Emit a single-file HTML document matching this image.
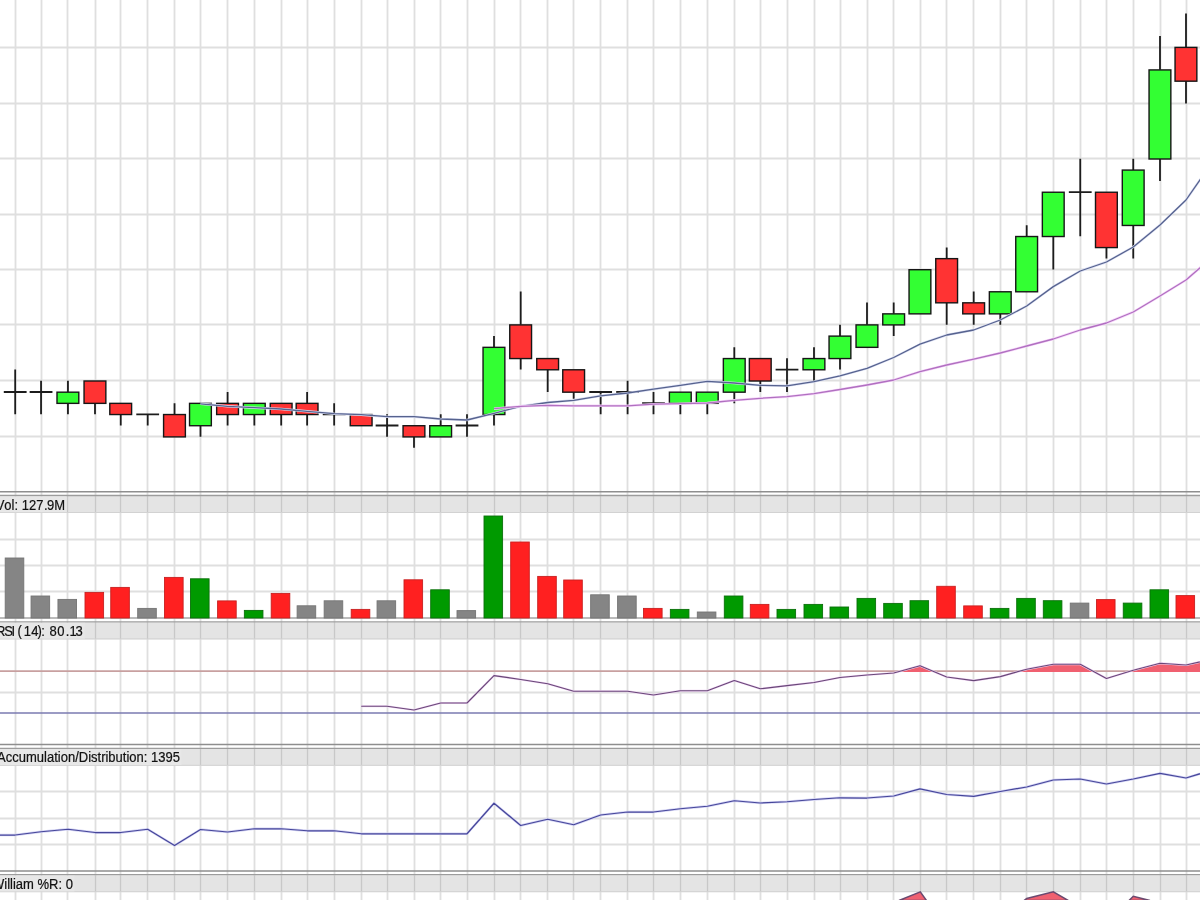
<!DOCTYPE html><html><head><meta charset="utf-8"><style>html,body{margin:0;padding:0;background:#fff;overflow:hidden}svg{display:block}text{font-family:"Liberation Sans",sans-serif;font-size:13px;fill:#111;stroke:#111;stroke-width:0.2px}</style></head><body>
<div id="wrap"><svg width="1200" height="900" viewBox="0 0 1200 900">
<rect width="1200" height="900" fill="#fff"/>
<rect x="0" y="496.1" width="1200" height="16.9" fill="#e4e4e4"/>
<rect x="0" y="622.5" width="1200" height="16.9" fill="#e4e4e4"/>
<rect x="0" y="748.9" width="1200" height="16.9" fill="#e4e4e4"/>
<rect x="0" y="875.3" width="1200" height="16.9" fill="#e4e4e4"/>
<path d="M-11.5 0V900M15.5 0V900M41.5 0V900M67.5 0V900M95.5 0V900M120.5 0V900M147.5 0V900M174.5 0V900M200.5 0V900M227.5 0V900M254.5 0V900M281.5 0V900M307.5 0V900M334.5 0V900M361.5 0V900M387.5 0V900M414.5 0V900M440.5 0V900M467.5 0V900M494.5 0V900M520.5 0V900M547.5 0V900M573.5 0V900M600.5 0V900M627.5 0V900M653.5 0V900M680.5 0V900M707.5 0V900M734.5 0V900M760.5 0V900M787.5 0V900M814.5 0V900M840.5 0V900M867.5 0V900M893.5 0V900M920.5 0V900M946.5 0V900M973.5 0V900M1000.5 0V900M1026.5 0V900M1053.5 0V900M1080.5 0V900M1106.5 0V900M1133.5 0V900M1160.5 0V900M1186.5 0V900M1212.5 0V900M0 47.5H1200M0 103.5H1200M0 158.5H1200M0 214.5H1200M0 269.5H1200M0 324.5H1200M0 380.5H1200M0 436.5H1200M0 539.5H1200M0 565.5H1200M0 591.5H1200M0 791.5H1200M0 818.5H1200M0 844.5H1200M0 692.5H1200" stroke="#dfdfdf" stroke-width="1.8" fill="none"/>
<path d="M-11.5 496.2V512.5M15.5 496.2V512.5M41.5 496.2V512.5M67.5 496.2V512.5M95.5 496.2V512.5M120.5 496.2V512.5M147.5 496.2V512.5M174.5 496.2V512.5M200.5 496.2V512.5M227.5 496.2V512.5M254.5 496.2V512.5M281.5 496.2V512.5M307.5 496.2V512.5M334.5 496.2V512.5M361.5 496.2V512.5M387.5 496.2V512.5M414.5 496.2V512.5M440.5 496.2V512.5M467.5 496.2V512.5M494.5 496.2V512.5M520.5 496.2V512.5M547.5 496.2V512.5M573.5 496.2V512.5M600.5 496.2V512.5M627.5 496.2V512.5M653.5 496.2V512.5M680.5 496.2V512.5M707.5 496.2V512.5M734.5 496.2V512.5M760.5 496.2V512.5M787.5 496.2V512.5M814.5 496.2V512.5M840.5 496.2V512.5M867.5 496.2V512.5M893.5 496.2V512.5M920.5 496.2V512.5M946.5 496.2V512.5M973.5 496.2V512.5M1000.5 496.2V512.5M1026.5 496.2V512.5M1053.5 496.2V512.5M1080.5 496.2V512.5M1106.5 496.2V512.5M1133.5 496.2V512.5M1160.5 496.2V512.5M1186.5 496.2V512.5M1212.5 496.2V512.5M-11.5 622.6V638.9M15.5 622.6V638.9M41.5 622.6V638.9M67.5 622.6V638.9M95.5 622.6V638.9M120.5 622.6V638.9M147.5 622.6V638.9M174.5 622.6V638.9M200.5 622.6V638.9M227.5 622.6V638.9M254.5 622.6V638.9M281.5 622.6V638.9M307.5 622.6V638.9M334.5 622.6V638.9M361.5 622.6V638.9M387.5 622.6V638.9M414.5 622.6V638.9M440.5 622.6V638.9M467.5 622.6V638.9M494.5 622.6V638.9M520.5 622.6V638.9M547.5 622.6V638.9M573.5 622.6V638.9M600.5 622.6V638.9M627.5 622.6V638.9M653.5 622.6V638.9M680.5 622.6V638.9M707.5 622.6V638.9M734.5 622.6V638.9M760.5 622.6V638.9M787.5 622.6V638.9M814.5 622.6V638.9M840.5 622.6V638.9M867.5 622.6V638.9M893.5 622.6V638.9M920.5 622.6V638.9M946.5 622.6V638.9M973.5 622.6V638.9M1000.5 622.6V638.9M1026.5 622.6V638.9M1053.5 622.6V638.9M1080.5 622.6V638.9M1106.5 622.6V638.9M1133.5 622.6V638.9M1160.5 622.6V638.9M1186.5 622.6V638.9M1212.5 622.6V638.9M-11.5 749V765.3M15.5 749V765.3M41.5 749V765.3M67.5 749V765.3M95.5 749V765.3M120.5 749V765.3M147.5 749V765.3M174.5 749V765.3M200.5 749V765.3M227.5 749V765.3M254.5 749V765.3M281.5 749V765.3M307.5 749V765.3M334.5 749V765.3M361.5 749V765.3M387.5 749V765.3M414.5 749V765.3M440.5 749V765.3M467.5 749V765.3M494.5 749V765.3M520.5 749V765.3M547.5 749V765.3M573.5 749V765.3M600.5 749V765.3M627.5 749V765.3M653.5 749V765.3M680.5 749V765.3M707.5 749V765.3M734.5 749V765.3M760.5 749V765.3M787.5 749V765.3M814.5 749V765.3M840.5 749V765.3M867.5 749V765.3M893.5 749V765.3M920.5 749V765.3M946.5 749V765.3M973.5 749V765.3M1000.5 749V765.3M1026.5 749V765.3M1053.5 749V765.3M1080.5 749V765.3M1106.5 749V765.3M1133.5 749V765.3M1160.5 749V765.3M1186.5 749V765.3M1212.5 749V765.3M-11.5 875.4V891.7M15.5 875.4V891.7M41.5 875.4V891.7M67.5 875.4V891.7M95.5 875.4V891.7M120.5 875.4V891.7M147.5 875.4V891.7M174.5 875.4V891.7M200.5 875.4V891.7M227.5 875.4V891.7M254.5 875.4V891.7M281.5 875.4V891.7M307.5 875.4V891.7M334.5 875.4V891.7M361.5 875.4V891.7M387.5 875.4V891.7M414.5 875.4V891.7M440.5 875.4V891.7M467.5 875.4V891.7M494.5 875.4V891.7M520.5 875.4V891.7M547.5 875.4V891.7M573.5 875.4V891.7M600.5 875.4V891.7M627.5 875.4V891.7M653.5 875.4V891.7M680.5 875.4V891.7M707.5 875.4V891.7M734.5 875.4V891.7M760.5 875.4V891.7M787.5 875.4V891.7M814.5 875.4V891.7M840.5 875.4V891.7M867.5 875.4V891.7M893.5 875.4V891.7M920.5 875.4V891.7M946.5 875.4V891.7M973.5 875.4V891.7M1000.5 875.4V891.7M1026.5 875.4V891.7M1053.5 875.4V891.7M1080.5 875.4V891.7M1106.5 875.4V891.7M1133.5 875.4V891.7M1160.5 875.4V891.7M1186.5 875.4V891.7M1212.5 875.4V891.7" stroke="#c8c8c8" stroke-width="1.2" fill="none"/>
<path d="M0 491.7H1200" stroke="#8e8e8e" stroke-width="1.5"/>
<path d="M0 495.5H1200" stroke="#9c9c9c" stroke-width="1.3"/>
<path d="M0 512.5H1200" stroke="#d2d2d2" stroke-width="1"/>
<path d="M0 618.1H1200" stroke="#a4a4a4" stroke-width="1.5"/>
<path d="M0 621.9H1200" stroke="#9c9c9c" stroke-width="1.3"/>
<path d="M0 638.9H1200" stroke="#d2d2d2" stroke-width="1"/>
<path d="M0 744.5H1200" stroke="#8e8e8e" stroke-width="1.5"/>
<path d="M0 748.3H1200" stroke="#9c9c9c" stroke-width="1.3"/>
<path d="M0 765.3H1200" stroke="#d2d2d2" stroke-width="1"/>
<path d="M0 870.9H1200" stroke="#8e8e8e" stroke-width="1.5"/>
<path d="M0 874.7H1200" stroke="#9c9c9c" stroke-width="1.3"/>
<path d="M0 891.7H1200" stroke="#d2d2d2" stroke-width="1"/>
<path d="M15.2 369.58V391.98M15.2 391.98V414.34M3.8 391.98H26.6M41.05 380.8V391.98M41.05 391.98V414.34M29.65 391.98H52.45M67.95 380.8V391.98M67.95 403.16V414.34M95 403.16V414.34M120.75 414.34V425.52M147.7 414.34V425.52M136.3 414.34H159.1M174.53 403.16V414.34M200.49 425.52V436.7M227.6 391.98V403.16M227.6 414.34V425.52M254.35 414.34V425.52M281.2 414.34V425.52M307.12 391.98V403.16M307.12 414.34V425.52M334.15 403.16V414.34M334.15 414.34V425.52M322.75 414.34H345.55M387.05 414.34V425.52M387.05 425.52V436.7M375.65 425.52H398.45M414 436.7V447.82M440.7 414.34V425.52M467 414.34V425.52M467 425.52V436.7M455.6 425.52H478.4M494 335.92V347.14M494 414.34V425.52M520.7 291.58V324.7M520.7 358.36V369.58M547.7 369.58V391.98M573.7 391.98V398.69M600.65 391.98V414.34M589.25 391.98H612.05M627.6 380.8V391.98M627.6 391.98V414.34M616.2 391.98H639M653.5 391.98V403.16M653.5 403.16V414.34M642.1 403.16H664.9M680.35 403.16V414.34M707.3 403.16V414.34M734.3 347.14V358.36M734.3 391.98V403.16M760.3 380.8V391.98M787 358.36V369.58M787 369.58V391.98M775.6 369.58H798.4M814 347.14V358.36M814 369.58V380.8M840 324.7V335.92M840 358.36V369.58M867 302.62V324.7M893.7 302.62V313.66M893.7 324.7V335.92M946.7 247.38V258.44M946.7 302.62V324.7M973.7 291.58V302.62M973.7 313.66V324.7M1000.3 313.66V324.7M1026.7 225.26V236.32M1053.3 236.32V269.5M1080.25 158.8V192.04M1080.25 192.04V236.32M1068.85 192.04H1091.65M1106.45 247.38V258.44M1133.25 158.8V169.88M1133.25 225.26V258.44M1160 35.94V69.72M1160 158.8V180.96M1186 13.42V47.2M1186 80.98V103.5" stroke="#1c1c1c" stroke-width="1.8" fill="none"/>
<rect x="57" y="392.18" width="21.8" height="11.18" fill="#33ff33" stroke="#161616" stroke-width="1.4"/>
<rect x="84.05" y="381" width="21.8" height="22.36" fill="#ff3333" stroke="#161616" stroke-width="1.4"/>
<rect x="109.8" y="403.36" width="21.8" height="11.18" fill="#ff3333" stroke="#161616" stroke-width="1.4"/>
<rect x="163.58" y="414.54" width="21.8" height="22.36" fill="#ff3333" stroke="#161616" stroke-width="1.4"/>
<rect x="189.54" y="403.36" width="21.8" height="22.36" fill="#33ff33" stroke="#161616" stroke-width="1.4"/>
<rect x="216.65" y="403.36" width="21.8" height="11.18" fill="#ff3333" stroke="#161616" stroke-width="1.4"/>
<rect x="243.4" y="403.36" width="21.8" height="11.18" fill="#33ff33" stroke="#161616" stroke-width="1.4"/>
<rect x="270.25" y="403.36" width="21.8" height="11.18" fill="#ff3333" stroke="#161616" stroke-width="1.4"/>
<rect x="296.18" y="403.36" width="21.8" height="11.18" fill="#ff3333" stroke="#161616" stroke-width="1.4"/>
<rect x="350.25" y="414.54" width="21.8" height="11.18" fill="#ff3333" stroke="#161616" stroke-width="1.4"/>
<rect x="403.05" y="425.72" width="21.8" height="11.18" fill="#ff3333" stroke="#161616" stroke-width="1.4"/>
<rect x="429.75" y="425.72" width="21.8" height="11.18" fill="#33ff33" stroke="#161616" stroke-width="1.4"/>
<rect x="483.05" y="347.34" width="21.8" height="67.2" fill="#33ff33" stroke="#161616" stroke-width="1.4"/>
<rect x="509.75" y="324.9" width="21.8" height="33.66" fill="#ff3333" stroke="#161616" stroke-width="1.4"/>
<rect x="536.75" y="358.56" width="21.8" height="11.22" fill="#ff3333" stroke="#161616" stroke-width="1.4"/>
<rect x="562.75" y="369.78" width="21.8" height="22.4" fill="#ff3333" stroke="#161616" stroke-width="1.4"/>
<rect x="669.4" y="392.18" width="21.8" height="11.18" fill="#33ff33" stroke="#161616" stroke-width="1.4"/>
<rect x="696.35" y="392.18" width="21.8" height="11.18" fill="#33ff33" stroke="#161616" stroke-width="1.4"/>
<rect x="723.35" y="358.56" width="21.8" height="33.62" fill="#33ff33" stroke="#161616" stroke-width="1.4"/>
<rect x="749.35" y="358.56" width="21.8" height="22.44" fill="#ff3333" stroke="#161616" stroke-width="1.4"/>
<rect x="803.05" y="358.56" width="21.8" height="11.22" fill="#33ff33" stroke="#161616" stroke-width="1.4"/>
<rect x="829.05" y="336.12" width="21.8" height="22.44" fill="#33ff33" stroke="#161616" stroke-width="1.4"/>
<rect x="856.05" y="324.9" width="21.8" height="22.44" fill="#33ff33" stroke="#161616" stroke-width="1.4"/>
<rect x="882.75" y="313.86" width="21.8" height="11.04" fill="#33ff33" stroke="#161616" stroke-width="1.4"/>
<rect x="909.05" y="269.7" width="21.8" height="44.16" fill="#33ff33" stroke="#161616" stroke-width="1.4"/>
<rect x="935.75" y="258.64" width="21.8" height="44.18" fill="#ff3333" stroke="#161616" stroke-width="1.4"/>
<rect x="962.75" y="302.82" width="21.8" height="11.04" fill="#ff3333" stroke="#161616" stroke-width="1.4"/>
<rect x="989.35" y="291.78" width="21.8" height="22.08" fill="#33ff33" stroke="#161616" stroke-width="1.4"/>
<rect x="1015.75" y="236.52" width="21.8" height="55.26" fill="#33ff33" stroke="#161616" stroke-width="1.4"/>
<rect x="1042.35" y="192.24" width="21.8" height="44.28" fill="#33ff33" stroke="#161616" stroke-width="1.4"/>
<rect x="1095.5" y="192.24" width="21.8" height="55.34" fill="#ff3333" stroke="#161616" stroke-width="1.4"/>
<rect x="1122.3" y="170.08" width="21.8" height="55.38" fill="#33ff33" stroke="#161616" stroke-width="1.4"/>
<rect x="1149.05" y="69.92" width="21.8" height="89.08" fill="#33ff33" stroke="#161616" stroke-width="1.4"/>
<rect x="1175.05" y="47.4" width="21.8" height="33.78" fill="#ff3333" stroke="#161616" stroke-width="1.4"/>
<polyline points="200.49,403.8 227.6,406.3 254.35,407.7 281.2,409 307.12,411.3 334.15,413.7 361.2,414.7 387.05,416.7 414,416.7 440.7,419 467,420 494,413.3 520.7,406.3 547.7,402.5 573.7,400.3 600.65,395.8 627.6,393 653.5,389.2 680.35,385.3 707.3,381.3 734.3,383 760.3,385.3 787,385.8 814,381.7 840,375.8 867,368.3 893.7,357.5 920,344.2 946.7,335 973.7,330 1000.3,320 1026.7,306 1053.3,286.6 1080.25,271 1106.45,262 1133.25,247 1160,225 1186,200 1212.45,162" fill="none" stroke="#dce0f4" stroke-width="2.4" stroke-linejoin="round"/>
<polyline points="200.49,403.8 227.6,406.3 254.35,407.7 281.2,409 307.12,411.3 334.15,413.7 361.2,414.7 387.05,416.7 414,416.7 440.7,419 467,420 494,413.3 520.7,406.3 547.7,402.5 573.7,400.3 600.65,395.8 627.6,393 653.5,389.2 680.35,385.3 707.3,381.3 734.3,383 760.3,385.3 787,385.8 814,381.7 840,375.8 867,368.3 893.7,357.5 920,344.2 946.7,335 973.7,330 1000.3,320 1026.7,306 1053.3,286.6 1080.25,271 1106.45,262 1133.25,247 1160,225 1186,200 1212.45,162" fill="none" stroke="#56628e" stroke-width="1.3" stroke-linejoin="round"/>
<polyline points="494,408.7 520.7,406.3 547.7,405.3 573.7,405.8 600.65,405.8 627.6,405.8 653.5,404.2 680.35,403.7 707.3,403 734.3,400.3 760.3,398.3 787,396.7 814,393.7 840,389.5 867,385 893.7,380 920,371.7 946.7,365 973.7,359.2 1000.3,353 1026.7,346 1053.3,339 1080.25,330 1106.45,323 1133.25,312 1160,296 1186,280 1212.45,257" fill="none" stroke="#f6d6fa" stroke-width="2.6" stroke-linejoin="round"/>
<polyline points="494,408.7 520.7,406.3 547.7,405.3 573.7,405.8 600.65,405.8 627.6,405.8 653.5,404.2 680.35,403.7 707.3,403 734.3,400.3 760.3,398.3 787,396.7 814,393.7 840,389.5 867,385 893.7,380 920,371.7 946.7,365 973.7,359.2 1000.3,353 1026.7,346 1053.3,339 1080.25,330 1106.45,323 1133.25,312 1160,296 1186,280 1212.45,257" fill="none" stroke="#b070c0" stroke-width="1.3" stroke-linejoin="round"/>
<rect x="5.2" y="558" width="18.6" height="60" fill="#858585" stroke="#747474" stroke-width="0.9"/>
<rect x="31.05" y="596" width="18.6" height="22" fill="#858585" stroke="#747474" stroke-width="0.9"/>
<rect x="57.95" y="599.4" width="18.6" height="18.6" fill="#858585" stroke="#747474" stroke-width="0.9"/>
<rect x="85" y="592.4" width="18.6" height="25.6" fill="#ff2020" stroke="#c82020" stroke-width="0.9"/>
<rect x="110.75" y="587.4" width="18.6" height="30.6" fill="#ff2020" stroke="#c82020" stroke-width="0.9"/>
<rect x="137.7" y="608.4" width="18.6" height="9.6" fill="#858585" stroke="#747474" stroke-width="0.9"/>
<rect x="164.53" y="577.4" width="18.6" height="40.6" fill="#ff2020" stroke="#c82020" stroke-width="0.9"/>
<rect x="190.49" y="578.8" width="18.6" height="39.2" fill="#009a00" stroke="#0a700a" stroke-width="0.9"/>
<rect x="217.6" y="600.9" width="18.6" height="17.1" fill="#ff2020" stroke="#c82020" stroke-width="0.9"/>
<rect x="244.35" y="610.4" width="18.6" height="7.6" fill="#009a00" stroke="#0a700a" stroke-width="0.9"/>
<rect x="271.2" y="593.4" width="18.6" height="24.6" fill="#ff2020" stroke="#c82020" stroke-width="0.9"/>
<rect x="297.12" y="605.8" width="18.6" height="12.2" fill="#858585" stroke="#747474" stroke-width="0.9"/>
<rect x="324.15" y="600.8" width="18.6" height="17.2" fill="#858585" stroke="#747474" stroke-width="0.9"/>
<rect x="351.2" y="609.4" width="18.6" height="8.6" fill="#ff2020" stroke="#c82020" stroke-width="0.9"/>
<rect x="377.05" y="600.8" width="18.6" height="17.2" fill="#858585" stroke="#747474" stroke-width="0.9"/>
<rect x="404" y="579.8" width="18.6" height="38.2" fill="#ff2020" stroke="#c82020" stroke-width="0.9"/>
<rect x="430.7" y="589.8" width="18.6" height="28.2" fill="#009a00" stroke="#0a700a" stroke-width="0.9"/>
<rect x="457" y="610.6" width="18.6" height="7.4" fill="#858585" stroke="#747474" stroke-width="0.9"/>
<rect x="484" y="516" width="18.6" height="102" fill="#009a00" stroke="#0a700a" stroke-width="0.9"/>
<rect x="510.7" y="542" width="18.6" height="76" fill="#ff2020" stroke="#c82020" stroke-width="0.9"/>
<rect x="537.7" y="576.4" width="18.6" height="41.6" fill="#ff2020" stroke="#c82020" stroke-width="0.9"/>
<rect x="563.7" y="580" width="18.6" height="38" fill="#ff2020" stroke="#c82020" stroke-width="0.9"/>
<rect x="590.65" y="594.8" width="18.6" height="23.2" fill="#858585" stroke="#747474" stroke-width="0.9"/>
<rect x="617.6" y="596" width="18.6" height="22" fill="#858585" stroke="#747474" stroke-width="0.9"/>
<rect x="643.5" y="608.4" width="18.6" height="9.6" fill="#ff2020" stroke="#c82020" stroke-width="0.9"/>
<rect x="670.35" y="609.4" width="18.6" height="8.6" fill="#009a00" stroke="#0a700a" stroke-width="0.9"/>
<rect x="697.3" y="612" width="18.6" height="6" fill="#858585" stroke="#747474" stroke-width="0.9"/>
<rect x="724.3" y="596" width="18.6" height="22" fill="#009a00" stroke="#0a700a" stroke-width="0.9"/>
<rect x="750.3" y="604.4" width="18.6" height="13.6" fill="#ff2020" stroke="#c82020" stroke-width="0.9"/>
<rect x="777" y="609.4" width="18.6" height="8.6" fill="#009a00" stroke="#0a700a" stroke-width="0.9"/>
<rect x="804" y="604.4" width="18.6" height="13.6" fill="#009a00" stroke="#0a700a" stroke-width="0.9"/>
<rect x="830" y="607" width="18.6" height="11" fill="#009a00" stroke="#0a700a" stroke-width="0.9"/>
<rect x="857" y="598.4" width="18.6" height="19.6" fill="#009a00" stroke="#0a700a" stroke-width="0.9"/>
<rect x="883.7" y="603.4" width="18.6" height="14.6" fill="#009a00" stroke="#0a700a" stroke-width="0.9"/>
<rect x="910" y="600.7" width="18.6" height="17.3" fill="#009a00" stroke="#0a700a" stroke-width="0.9"/>
<rect x="936.7" y="586.3" width="18.6" height="31.7" fill="#ff2020" stroke="#c82020" stroke-width="0.9"/>
<rect x="963.7" y="605.9" width="18.6" height="12.1" fill="#ff2020" stroke="#c82020" stroke-width="0.9"/>
<rect x="990.3" y="608.4" width="18.6" height="9.6" fill="#009a00" stroke="#0a700a" stroke-width="0.9"/>
<rect x="1016.7" y="598.4" width="18.6" height="19.6" fill="#009a00" stroke="#0a700a" stroke-width="0.9"/>
<rect x="1043.3" y="600.7" width="18.6" height="17.3" fill="#009a00" stroke="#0a700a" stroke-width="0.9"/>
<rect x="1070.25" y="603.1" width="18.6" height="14.9" fill="#858585" stroke="#747474" stroke-width="0.9"/>
<rect x="1096.45" y="599.6" width="18.6" height="18.4" fill="#ff2020" stroke="#c82020" stroke-width="0.9"/>
<rect x="1123.25" y="603.1" width="18.6" height="14.9" fill="#009a00" stroke="#0a700a" stroke-width="0.9"/>
<rect x="1150" y="589.8" width="18.6" height="28.2" fill="#009a00" stroke="#0a700a" stroke-width="0.9"/>
<rect x="1176" y="595.6" width="18.6" height="22.4" fill="#ff2020" stroke="#c82020" stroke-width="0.9"/>
<path d="M0 671.11H1200" stroke="#c8a0a0" stroke-width="1.7"/>
<path d="M0 712.99H1200" stroke="#7a7ab0" stroke-width="1.5"/>
<polygon points="900.51,672.01 900.51,671.11 920,665.7 932.78,671.11 932.78,672.01" fill="#f06070"/>
<polygon points="1019.89,672.01 1019.89,671.11 1026.7,669.2 1053.3,664.25 1080.25,664.25 1092.86,671.11 1092.86,672.01" fill="#f06070"/>
<polygon points="1130.31,672.01 1130.31,671.11 1133.25,670.2 1160,663.2 1186,665 1212.45,659 1212.45,671.11 1212.45,672.01" fill="#f06070"/>
<polyline points="361.2,706.25 387.05,706.25 414,710 440.7,703 467,703 494,675.6 520.7,679.5 547.7,683.75 573.7,691.25 600.65,691.25 627.6,691.25 653.5,695 680.35,690.75 707.3,690.75 734.3,680.5 760.3,688.75 787,685.6 814,682.5 840,677.5 867,675 893.7,673 920,665.7 946.7,677 973.7,680.6 1000.3,676.6 1026.7,669.2 1053.3,664.25 1080.25,664.25 1106.45,678.5 1133.25,670.2 1160,663.2 1186,665 1212.45,659" fill="none" stroke="#f0d4f4" stroke-width="2.2" stroke-linejoin="round"/>
<polyline points="361.2,706.25 387.05,706.25 414,710 440.7,703 467,703 494,675.6 520.7,679.5 547.7,683.75 573.7,691.25 600.65,691.25 627.6,691.25 653.5,695 680.35,690.75 707.3,690.75 734.3,680.5 760.3,688.75 787,685.6 814,682.5 840,677.5 867,675 893.7,673 920,665.7 946.7,677 973.7,680.6 1000.3,676.6 1026.7,669.2 1053.3,664.25 1080.25,664.25 1106.45,678.5 1133.25,670.2 1160,663.2 1186,665 1212.45,659" fill="none" stroke="#684878" stroke-width="1.15" stroke-linejoin="round"/>
<polyline points="-11.61,835 15.2,835 41.05,831.75 67.95,829.25 95,832.5 120.75,832.5 147.7,829.25 174.53,845.5 200.49,829.5 227.6,832 254.35,828.75 281.2,828.75 307.12,830.75 334.15,830.75 361.2,833.75 387.05,833.75 414,833.75 440.7,833.75 467,833.75 494,803.25 520.7,825.5 547.7,819.25 573.7,824.75 600.65,815 627.6,812 653.5,812 680.35,808.75 707.3,806.25 734.3,800.75 760.3,803 787,801.75 814,799.5 840,797.75 867,798 893.7,796 920,788.8 946.7,794.5 973.7,796.3 1000.3,791.5 1026.7,787 1053.3,780 1080.25,779 1106.45,784 1133.25,779 1160,773.3 1186,778 1212.45,770" fill="none" stroke="#d4d4f4" stroke-width="2.4" stroke-linejoin="round"/>
<polyline points="-11.61,835 15.2,835 41.05,831.75 67.95,829.25 95,832.5 120.75,832.5 147.7,829.25 174.53,845.5 200.49,829.5 227.6,832 254.35,828.75 281.2,828.75 307.12,830.75 334.15,830.75 361.2,833.75 387.05,833.75 414,833.75 440.7,833.75 467,833.75 494,803.25 520.7,825.5 547.7,819.25 573.7,824.75 600.65,815 627.6,812 653.5,812 680.35,808.75 707.3,806.25 734.3,800.75 760.3,803 787,801.75 814,799.5 840,797.75 867,798 893.7,796 920,788.8 946.7,794.5 973.7,796.3 1000.3,791.5 1026.7,787 1053.3,780 1080.25,779 1106.45,784 1133.25,779 1160,773.3 1186,778 1212.45,770" fill="none" stroke="#46469a" stroke-width="1.25" stroke-linejoin="round"/>
<polygon points="899,900.5 920.3,891.8 926.5,900.5" fill="#f06070" stroke="#6a4a70" stroke-width="1.5"/>
<polygon points="1024,900.5 1026.7,898.5 1053.3,891.8 1068.3,900.5" fill="#f06070" stroke="#6a4a70" stroke-width="1.5"/>
<polygon points="1129,900.5 1133.3,896.3 1150,900.5" fill="#f06070" stroke="#6a4a70" stroke-width="1.5"/>
<g style="filter:grayscale(1)">
<rect x="0" y="496.4" width="66.57" height="15.8" fill="#e7e7e7"/>
<text transform="translate(0 509.7) scale(1 1.06)" x="-4.3 4.37 11.6 14.49 18.1 21.71 28.94 36.17 43.9 47.01 54.24" y="0">Vol: 127.9M</text>
<rect x="0" y="622.8" width="84.96" height="15.8" fill="#e7e7e7"/>
<text transform="translate(0 635.8) scale(1 1.06)" x="-4.1 4.14 11.56 16.97 17.38 23.66 31.24 37.62 41.3 47.31 49.42 57.2 65.73 69.6 75.48" y="0">RSI (14): 80.13</text>
<rect x="0" y="749.2" width="181.42" height="15.8" fill="#e7e7e7"/>
<text transform="translate(0 762.2) scale(1 1.06)" x="-2.9 5.77 12.27 18.77 26 36.83 44.06 46.95 54.18 57.79 60.68 67.91 75.14 78.75 88.14 91.03 97.53 101.14 105.47 108.36 115.59 122.82 126.43 129.32 136.55 143.78 147.39 151 158.23 165.46 172.69" y="0">Accumulation/Distribution: 1395</text>
<rect x="0" y="875.6" width="74.39" height="15.8" fill="#e7e7e7"/>
<text transform="translate(0 888.7) scale(1 1.06)" x="-8 4.27 7.16 10.05 12.93 15.82 23.05 33.88 37.49 49.05 58.44 62.05 65.66" y="0">William %R: 0</text>
</g>
</svg></div></body></html>
